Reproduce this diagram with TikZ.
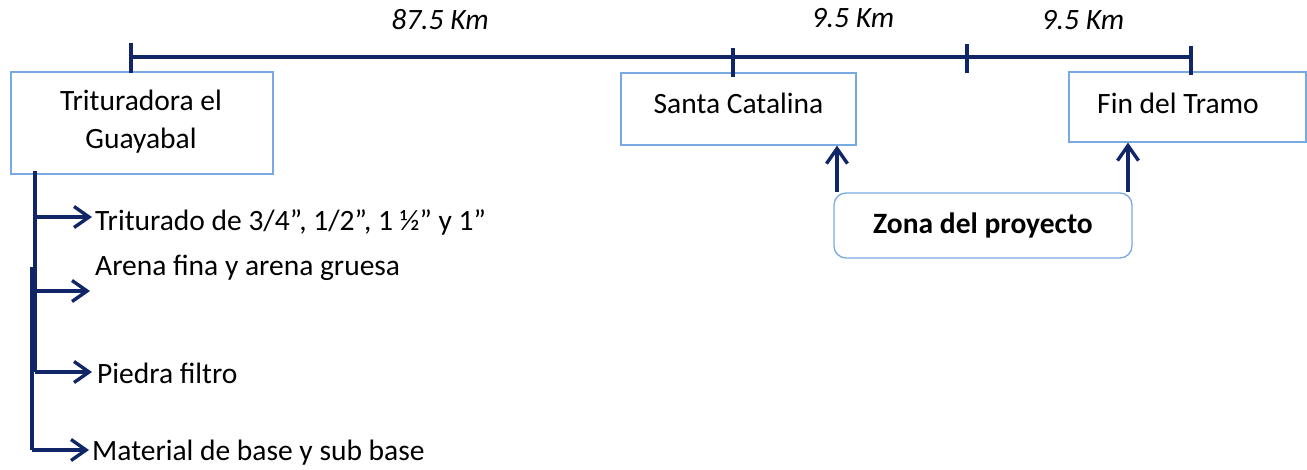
\documentclass[tikz,border=0pt]{standalone}
\usepackage{fontspec}
\setmainfont{Carlito}
\usetikzlibrary{arrows.meta}
\definecolor{navy}{RGB}{16,38,102}
\definecolor{boxblue}{RGB}{120,170,225}
\tikzset{
  txt/.style={font=\fontsize{29.5}{35}\selectfont, inner sep=0pt},
  km/.style={font=\fontsize{29.5}{35}\selectfont\itshape, inner sep=0pt, anchor=base},
  place/.style={draw=boxblue, line width=1.3pt, txt, align=center},
  ruler/.style={draw=navy, line width=3.6pt},
  arr/.style={draw=navy, line width=3.4pt, -{Straight Barb[length=15pt,width=21pt,line width=3.4pt]}},
  stem/.style={draw=navy, line width=3.4pt},
}
\begin{document}
\begin{tikzpicture}[x=1pt,y=-1pt]
\useasboundingbox (0,0) rectangle (1307,469);
% boxes
\draw[place] (11,72) rectangle (273,174);
\node[txt, anchor=base] (tri1) at (141,110) {Trituradora el};
\node[txt, anchor=base] (tri2) at (141,148) {Guayabal};
\node[place, minimum width=235pt, minimum height=72pt] (sc) at (738.5,109) {};
\node[txt, anchor=base] (sctext) at (738.5,113) {Santa Catalina};
\node[place, minimum width=237pt, minimum height=70pt] (ft) at (1187.5,107) {};
\node[txt, anchor=base] (fttext) at (1178,113) {Fin del Tramo};
\node[place, rounded corners=12pt, minimum width=298pt, minimum height=65pt] (zona) at (983,225.5) {};
\node[txt, anchor=base, font=\fontsize{29.5}{35}\selectfont\bfseries] (zonatext) at (983,233) {Zona del proyecto};
% ruler
\coordinate (t0) at (131,57);
\coordinate (t1) at (733,57);
\coordinate (t2) at (967,57);
\coordinate (t3) at (1191,57);
\draw[ruler] (t0) -- (t3);
\draw[ruler] (131,43) -- (131,73);
\draw[ruler] (733,48) -- (733,77);
\draw[ruler] (967,44) -- (967,73);
\draw[ruler] (1191,46) -- (1191,75);
\node[km] (k1) at (440,29) {87.5 Km};
\node[km] (k2) at (853,27) {9.5 Km};
\node[km] (k3) at (1083,29) {9.5 Km};
% zone arrows
\coordinate (za) at (837,0);
\coordinate (zb) at (1128,0);
\draw[arr] (zona.north -| za) -- (sc.south -| za);
\draw[arr] (zona.north -| zb) -- (ft.south -| zb);
% materials
\node[txt, anchor=base west] (m1) at (95,230) {Triturado de 3/4”, 1/2”, 1 ½” y 1”};
\node[txt, anchor=base west] (m2) at (95,275) {Arena fina y arena gruesa};
\node[txt, anchor=base west] (m3) at (97,383) {Piedra filtro};
\node[txt, anchor=base west] (m4) at (92,460) {Material de base y sub base};
\coordinate (v1top) at (35,171);
\coordinate (v1bot) at (35,372);
\coordinate (v2top) at (32,267);
\coordinate (v2bot) at (32,450);
\draw[stem] (v1top) -- (v1bot);
\draw[stem] (v2top) -- (v2bot);
\draw[arr] (35,217) -- (92,217);
\draw[arr] (32,291) -- (90,291);
\draw[arr] (v1bot) -- (92,372);
\draw[arr] (v2bot) -- (89,450);
\end{tikzpicture}
\end{document}
